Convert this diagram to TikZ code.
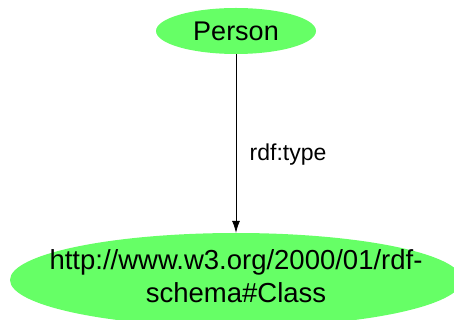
\documentclass[tikz,border=0pt]{standalone}
\usepackage{fontspec}
\setmainfont{Liberation Sans}
\usetikzlibrary{shapes.geometric,arrows.meta}
\definecolor{nodegreen}{RGB}{102,255,102}
\begin{document}
\begin{tikzpicture}[x=1pt,y=-1pt,
  ell/.style={ellipse,fill=nodegreen,draw=none,inner sep=0pt,align=center},
  txt/.style={inner sep=0pt,align=center},
  edge/.style={-{Latex[length=12pt,width=8pt]},line width=0.8pt}]
\useasboundingbox (0,0) rectangle (454,320);
\clip (0,0) rectangle (454,320);
\node[ell,minimum width=160pt,minimum height=46pt,font=\fontsize{27}{32}\selectfont] (person) at (236,31) {Person};
\node[ell,minimum width=452pt,minimum height=94pt] (cls) at (236,280) {};
\node[txt,font=\fontsize{27.5}{33}\selectfont] (clstext) at ([yshift=4pt]cls.center) {http://www.w3.org/2000/01/rdf-\\schema\#Class};
\draw[edge] (person) -- node[pos=0.56,anchor=west,xshift=10pt,font=\fontsize{23}{27}\selectfont] {rdf:type} (cls);
\end{tikzpicture}
\end{document}
